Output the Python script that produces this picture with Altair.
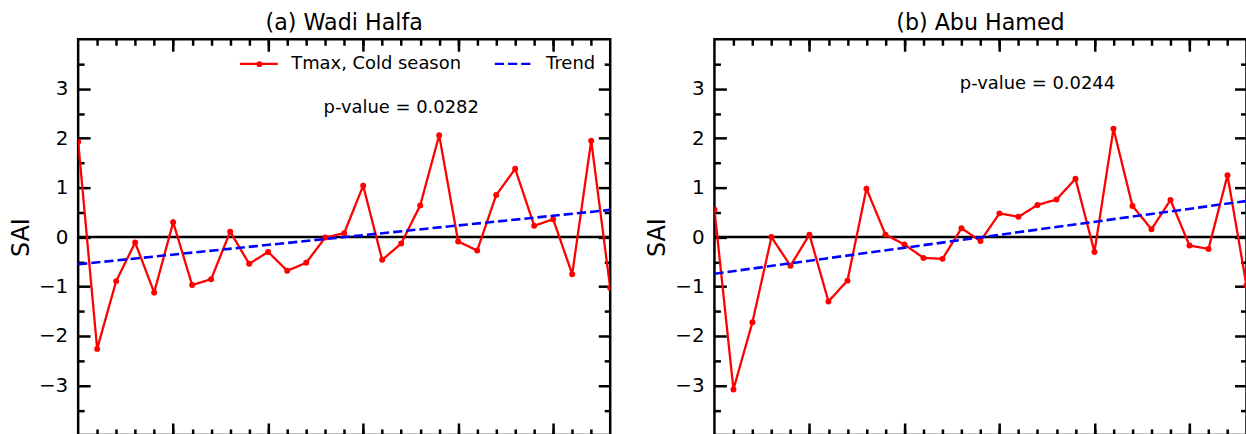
import altair as alt
import pandas as pd

# ---------------- data ----------------
idx = list(range(29))
wadi_halfa = [1.93, -2.26, -0.89, -0.11, -1.12, 0.30, -0.97, -0.85, 0.11, -0.54,
              -0.30, -0.68, -0.52, -0.01, 0.08, 1.04, -0.46, -0.13, 0.64, 2.06,
              -0.09, -0.27, 0.85, 1.38, 0.23, 0.36, -0.75, 1.95, -1.03]
abu_hamed = [0.56, -3.08, -1.72, 0.00, -0.58, 0.05, -1.30, -0.88, 0.98, 0.05,
             -0.15, -0.42, -0.44, 0.18, -0.08, 0.48, 0.41, 0.65, 0.76, 1.18,
             -0.30, 2.19, 0.63, 0.16, 0.75, -0.17, -0.24, 1.25, -0.98]
trend_x = [0, 28]
trend_wadi = [-0.55, 0.55]
trend_abu = [-0.74, 0.73]
zero_line = [0]
titles = ["(a) Wadi Halfa", "(b) Abu Hamed"]
pvalues = ["p-value = 0.0282", "p-value = 0.0244"]
series = ["Tmax, Cold season", "Trend"]
major_y = [-3, -2, -1, 0, 1, 2, 3]
minor_y = [-3.5, -2.5, -1.5, -0.5, 0.5, 1.5, 2.5, 3.5]
major_x = [5, 10, 15, 20, 25]
minor_x = list(range(1, 28))

FONT = "DejaVu Sans"
W, H = 534.4, 397.4
LEG_X, LEG_Y = 161, 4


def tick_axis(orient, offset, values, size):
    return alt.Axis(orient=orient, offset=offset, values=values, tickSize=size,
                    tickWidth=2.5, tickColor="black", labels=False, domain=False,
                    grid=False, title=None)


def panel(values, trend_vals, title, ptext, px, py, with_legend):
    obs = pd.DataFrame({"idx": idx, "value": values, "series": series[0]})
    tr = pd.DataFrame({"idx": trend_x, "value": trend_vals, "series": series[1]})
    zr = pd.DataFrame({"z": zero_line})
    tx = pd.DataFrame({"label": [ptext]})

    xs = alt.Scale(domain=[0, 28], nice=False, zero=False)
    ys = alt.Scale(domain=[-4, 4], nice=False, zero=False)
    cs = alt.Scale(domain=series, range=["#ff0000", "#0000ff"])
    ds = alt.Scale(domain=series, range=[[1, 0], [9.25, 4]])
    shp = alt.Scale(domain=[series[0]], range=["circle"])

    label_axis = alt.Axis(orient="left", values=major_y, ticks=False, domain=False,
                          grid=False, labelFontSize=20, labelFont=FONT,
                          labelColor="black", labelPadding=10.4, title="SAI",
                          titleFontSize=24, titleFont=FONT, titleFontWeight="normal",
                          titleColor="black", titlePadding=5)

    if with_legend:
        leg = alt.Legend(title=None, orient="none", legendX=LEG_X, legendY=LEG_Y,
                         direction="horizontal", columns=2, symbolType="stroke",
                         symbolSize=1444, symbolStrokeWidth=2.3, labelFontSize=18,
                         labelFont=FONT, labelColor="black", labelOffset=12,
                         labelLimit=400, columnPadding=28, padding=0)
        dot_leg = alt.Legend(title=None, orient="none", legendX=LEG_X + 17,
                             legendY=LEG_Y + 17, symbolSize=33, symbolType="circle",
                             labelOpacity=0, labelFontSize=1, padding=0)
        color = alt.Color("series:N", scale=cs, legend=leg)
        dash = alt.StrokeDash("series:N", scale=ds, legend=leg)
        shape = alt.Shape("series:N", scale=shp, legend=dot_leg)
    else:
        color = alt.Color("series:N", scale=cs, legend=None)
        dash = alt.StrokeDash("series:N", scale=ds, legend=None)
        shape = alt.Shape("series:N", scale=shp, legend=None)

    zero = alt.Chart(zr).mark_rule(color="black", strokeWidth=2.5).encode(
        y=alt.Y("z:Q", scale=ys, axis=tick_axis("left", -W, minor_y, 6)))

    line = alt.Chart(obs).mark_line(strokeWidth=2.3, clip=True).encode(
        x=alt.X("idx:Q", scale=xs, axis=tick_axis("top", -H, major_x, 12)),
        y=alt.Y("value:Q", scale=ys, axis=label_axis),
        color=color, strokeDash=dash)

    pts = alt.Chart(obs).mark_point(size=36, filled=True, color="#ff0000", opacity=1,
                                    clip=True).encode(
        x=alt.X("idx:Q", scale=xs, axis=tick_axis("top", -H, minor_x, 6)),
        y=alt.Y("value:Q", scale=ys, axis=tick_axis("right", -W, major_y, 12)),
        shape=shape)

    trend = alt.Chart(tr).mark_line(strokeWidth=2.6, clip=True).encode(
        x=alt.X("idx:Q", scale=xs, axis=tick_axis("bottom", -H, major_x, 12)),
        y=alt.Y("value:Q", scale=ys, axis=tick_axis("right", -W, minor_y, 6)),
        color=color, strokeDash=dash)

    text = alt.Chart(tx).mark_text(fontSize=18, font=FONT, color="black",
                                   align="center", baseline="alphabetic").encode(
        x=alt.XDatum(px, type="quantitative", scale=xs,
                     axis=tick_axis("bottom", -H, minor_x, 6)),
        y=alt.YDatum(py, type="quantitative", scale=ys,
                     axis=tick_axis("left", -W, major_y, 12)),
        text="label:N")

    return alt.layer(zero, line, pts, trend, text).resolve_scale(
        x="shared", y="shared").resolve_axis(
        x="independent", y="independent").properties(
        width=W, height=H,
        title=alt.TitleParams(text=title, fontSize=22.3, font=FONT, fontWeight="normal",
                              color="black", anchor="middle", baseline="alphabetic",
                              offset=-14))


pa = panel(wadi_halfa, trend_wadi, titles[0], pvalues[0], 17, 2.5, True)
pb = panel(abu_hamed, trend_abu, titles[1], pvalues[1], 17, 3.0, False)

chart = alt.hconcat(pa, pb, spacing=31.1).resolve_scale(
    color="independent", strokeDash="independent", shape="independent").resolve_legend(
    color="independent", strokeDash="independent", shape="independent").configure_view(
    stroke="black", strokeWidth=2.5).properties(
    padding={"left": 7.5, "top": 9.5, "right": -3, "bottom": -4},
    background="white")

chart.save("out.html", embed_options={"renderer": "svg", "actions": False})
